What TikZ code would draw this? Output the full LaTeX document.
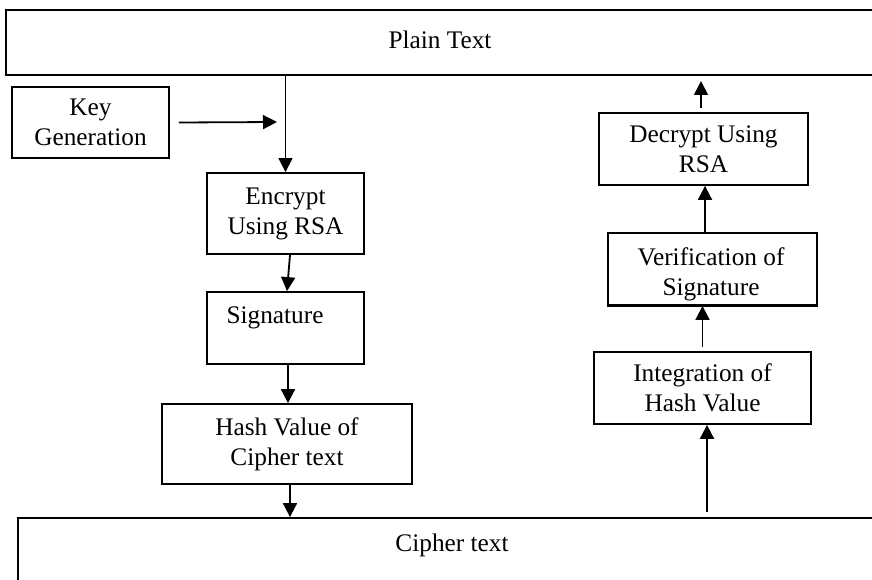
\documentclass[tikz,border=0pt]{standalone}
\usepackage{fontspec}
\setmainfont{Liberation Serif}
\usetikzlibrary{arrows.meta,calc}
\begin{document}
\begin{tikzpicture}[x=1pt,y=-1pt,
  box/.style={draw=black,line width=1.8pt,rectangle,inner sep=0pt,align=center,
    font=\fontsize{25.3}{30}\selectfont},
  lbl/.style={inner sep=0pt,align=center,font=\fontsize{25.3}{30}\selectfont},
  arr/.style={draw=black,line width=1.8pt,-{Triangle[length=14pt,width=14pt]}},
  thin arr/.style={arr,line width=1.3pt}]
\useasboundingbox (0,0) rectangle (872,580);
\clip (0,0) rectangle (872,580);
\fill[white] (0,0) rectangle (872,580);

% boxes
\node[box,minimum width=874pt,minimum height=65pt] (plain) at (443,42.5) {};
\node[lbl] (plaintxt) at (440,40) {Plain Text};

\node[box,minimum width=157pt,minimum height=71pt] (key) at (90.5,122.5) {Key\\Generation};
\node[box,minimum width=157pt,minimum height=81pt] (encrypt) at (285.5,213.5) {Encrypt\\Using RSA};
\node[box,minimum width=157pt,minimum height=72pt] (sig) at (285.5,328) {};
\node[lbl] (sigtxt) at (275,318) {Signature};
\node[box,minimum width=250pt,minimum height=80pt] (hash) at (287,444) {Hash Value of\\Cipher text};

\node[box,minimum width=870pt,minimum height=100pt] (cipher) at (453,568) {};
\node[lbl] (ciphertxt) at (452,545) {Cipher text};

\node[box,minimum width=209pt,minimum height=72pt] (decrypt) at (703.5,149) {Decrypt Using\\RSA};
\node[box,minimum width=209pt,minimum height=72pt] (verif) at (712.5,269) {};
\begin{scope}
\clip (verif.north west) rectangle (verif.south east);
\node[lbl] (veriftxt) at (711,274) {Verification of\\Signature};
\end{scope}
\draw[line width=1.8pt] (verif.south west) -- (verif.south east);
\node[box,minimum width=217pt,minimum height=72pt] (integ) at (702.5,388) {Integration of\\Hash Value};

% connectors
\coordinate (kend) at (277,122);
\coordinate (pend) at (701,81);
\draw[thin arr] (plain.south -| encrypt.north) -- (encrypt.north);
\draw[arr] ([xshift=9pt]key.east) -- (kend);
\draw[arr] ([xshift=4.5pt]encrypt.south) -- ([xshift=1.5pt]sig.north);
\draw[arr] ([xshift=2.5pt]sig.south) -- ([xshift=1pt]hash.north);
\draw[arr] ([xshift=3pt]hash.south) -- ([xshift=3pt]hash.south |- cipher.north);
\draw[arr] ([shift={(4.5pt,5pt)}]integ.south |- cipher.north) -- ([xshift=4.5pt]integ.south);
\draw[arr] ([yshift=4pt]integ.north) -- (integ.north |- verif.south);
\draw[arr] ([xshift=-7.5pt]verif.north) -- ([xshift=1.5pt]decrypt.south);
\draw[arr] ([shift={(-2.5pt,4pt)}]decrypt.north) -- (pend);
\end{tikzpicture}
\end{document}
